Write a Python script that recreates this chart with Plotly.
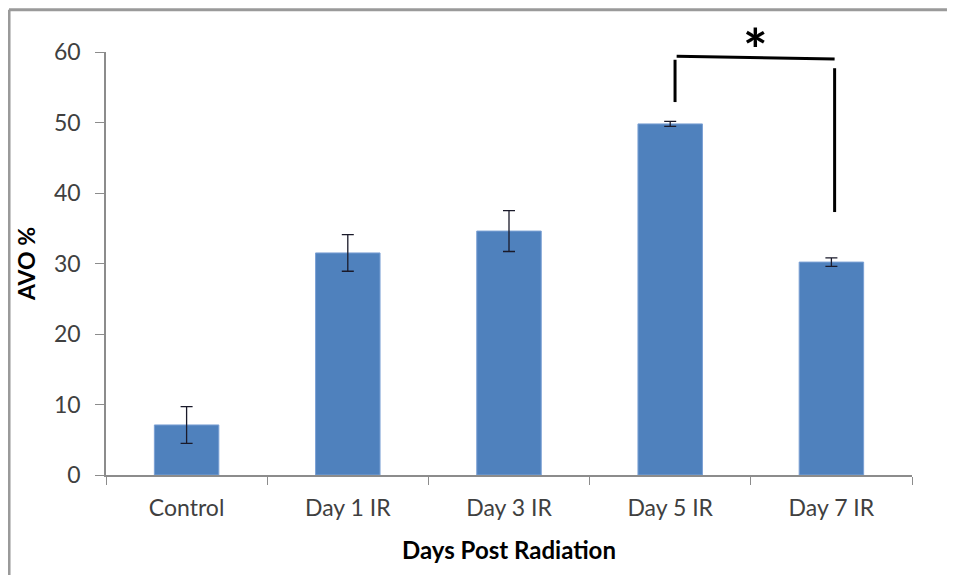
import plotly.graph_objects as go

categories = ["Control", "Day 1 IR", "Day 3 IR", "Day 5 IR", "Day 7 IR"]
avo_values = [7.1, 31.5, 34.6, 49.8, 30.2]
avo_errors = [2.6, 2.6, 2.9, 0.35, 0.6]
y_ticks = [0, 10, 20, 30, 40, 50, 60]

font_fam = "Lato, 'Open Sans', sans-serif"

fig = go.Figure()
fig.add_trace(go.Bar(
    x=categories, y=avo_values,
    marker=dict(color="#4F81BD", line=dict(color="#7BA0D4", width=1)),
    error_y=dict(type="data", array=avo_errors, visible=True,
                 color="#1a1a2a", thickness=1.3, width=6),
    showlegend=False,
))

line_style = dict(color="black", width=3)
# significance bracket between Day 5 IR (index 3) and Day 7 IR (index 4)
fig.add_shape(type="line", xref="x", yref="y", x0=3.03, x1=3.03, y0=52.9, y1=58.9, line=line_style)
fig.add_shape(type="line", xref="x", yref="y", x0=3.04, x1=4.02, y0=59.4, y1=59.0, line=line_style)
fig.add_shape(type="line", xref="x", yref="y", x0=4.02, x1=4.02, y0=37.3, y1=57.7, line=line_style)
fig.add_annotation(x=3.53, y=1.024, xref="x", yref="paper", text="<b>*</b>", showarrow=False,
                   yanchor="middle", yshift=-7, font=dict(size=58, color="black", family=font_fam))

# outer frame (only top and left edges visible)
frame_style = dict(color="#9a9a9a", width=3)
fig.add_shape(type="line", xref="paper", yref="paper",
              x0=-0.1203, x1=1.0434, y0=1.1, y1=1.1, line=frame_style, layer="below")
fig.add_shape(type="line", xref="paper", yref="paper",
              x0=-0.1203, x1=-0.1203, y0=-0.2364, y1=1.1, line=frame_style, layer="below")

fig.update_layout(
    width=939, height=567,
    margin=dict(l=98, r=35, t=44, b=100),
    paper_bgcolor="white", plot_bgcolor="white",
    bargap=0.6,
    font=dict(family=font_fam, color="#404040", size=23),
    xaxis=dict(
        showline=True, linecolor="#8c8c8c", linewidth=1.5,
        ticks="outside", tickson="boundaries", ticklen=8, tickcolor="#8c8c8c",
        tickfont=dict(size=23, color="#404040"), ticklabelstandoff=12,
        title=dict(text="<b>Days Post Radiation</b>", font=dict(size=24, color="black"), standoff=22),
    ),
    yaxis=dict(
        range=[0, 60], tickvals=y_ticks, showgrid=False, zeroline=False,
        showline=True, linecolor="#8c8c8c", linewidth=1.5,
        ticks="outside", ticklen=9, tickcolor="#8c8c8c",
        tickfont=dict(size=23, color="#404040"), ticklabelstandoff=10,
        title=dict(text="<b>AVO %</b>", font=dict(size=23, color="black"), standoff=12),
    ),
)

fig.write_html("out.html")
